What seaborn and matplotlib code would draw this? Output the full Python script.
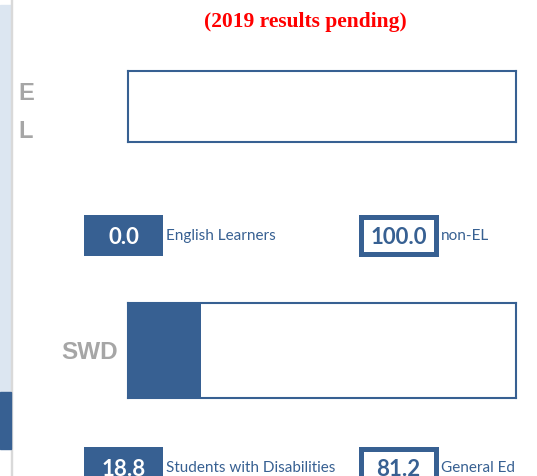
import numpy as np
import matplotlib
matplotlib.use("Agg")
import matplotlib.pyplot as plt
import seaborn as sns
from matplotlib.patches import Rectangle

# subgroup share of students (%)
groups = ["EL", "SWD"]
group_pct = [0.0, 18.8]
complement_pct = [100.0, 81.2]
group_names = ["English Learners", "Students with Disabilities"]
complement_names = ["non-EL", "General Ed"]
subtitle = "(2019 results pending)"

W, H = 537, 477
BLUE = "#376092"
GRAY_TXT = "#a6a6a6"
SANS = ["Lato", "DejaVu Sans"]

sns.set_theme(style="white")
plt.rcParams["font.family"] = SANS

fig = plt.figure(figsize=(W / 100, H / 100), dpi=100)
fig.patch.set_facecolor("white")


def px_axes(x0, y0, x1, y1):
    """axes placed by pixel box (top-left origin)."""
    return fig.add_axes([x0 / W, 1 - y1 / H, (x1 - x0) / W, (y1 - y0) / H])


def fx(x):
    return x / W


def fy(y):
    return 1 - y / H


# left page strip
fig.patches.append(Rectangle((0, fy(393)), fx(10.5), fy(6) - fy(393),
                             transform=fig.transFigure, color="#dce6f1", zorder=0))
fig.patches.append(Rectangle((fx(10.5), 0), fx(1.5), 1,
                             transform=fig.transFigure, color="#d9d9d9", zorder=0))
fig.patches.append(Rectangle((0, fy(450)), fx(11), fy(393) - fy(450),
                             transform=fig.transFigure, color=BLUE, zorder=1))

fig.text(fx(305), fy(22), subtitle, ha="center", va="center", color="red",
         fontsize=15.5, fontweight="bold", family=["Liberation Serif", "DejaVu Serif"])

# bar rows: (bar box, legend row top)
bar_boxes = [(128, 72, 516, 143), (128, 304, 516, 399)]
legend_tops = [216, 448]

for i, g in enumerate(groups):
    x0, y0, x1, y1 = bar_boxes[i]
    ax = px_axes(x0, y0, x1, y1)
    sns.barplot(x=[group_pct[i]], y=[g], orient="h", color=BLUE,
                saturation=1, width=1, ax=ax, linewidth=0)
    ax.set_xlim(0, 100)
    ax.set_ylim(0.5, -0.5)
    ax.set_xticks([])
    ax.set_yticks([])
    ax.set_xlabel("")
    ax.set_ylabel("")
    ax.set_facecolor("white")
    for sp in ax.spines.values():
        sp.set_visible(True)
        sp.set_color(BLUE)
        sp.set_linewidth(1.5)

    # group label on the left
    yc = (y0 + y1) / 2
    if g == "EL":
        fig.text(fx(18), fy(94), "E", ha="left", va="center", color=GRAY_TXT,
                 fontsize=17, fontweight="bold", family=["Liberation Sans", "DejaVu Sans"])
        fig.text(fx(18), fy(132), "L", ha="left", va="center", color=GRAY_TXT,
                 fontsize=17, fontweight="bold", family=["Liberation Sans", "DejaVu Sans"])
    else:
        fig.text(fx(118), fy(yc + 1), g, ha="right", va="center", color=GRAY_TXT,
                 fontsize=17.5, fontweight="bold", family=["Liberation Sans", "DejaVu Sans"])

    # legend boxes
    top = legend_tops[i]
    bx = px_axes(84, top, 163, top + 41)
    bx.set_facecolor(BLUE)
    bx.set_xticks([])
    bx.set_yticks([])
    for sp in bx.spines.values():
        sp.set_visible(False)
    bx.text(0.5, 0.47, f"{group_pct[i]:.1f}", transform=bx.transAxes,
            ha="center", va="center", color="white", fontsize=16, fontweight="bold")
    fig.text(fx(166), fy(top + 20), group_names[i], ha="left", va="center",
             color=BLUE, fontsize=11)

    cx = px_axes(361, top + 2, 436, top + 39)
    cx.set_facecolor("white")
    cx.set_xticks([])
    cx.set_yticks([])
    for sp in cx.spines.values():
        sp.set_visible(True)
        sp.set_color(BLUE)
        sp.set_linewidth(3.6)
    cx.text(0.5, 0.47, f"{complement_pct[i]:.1f}", transform=cx.transAxes,
            ha="center", va="center", color=BLUE, fontsize=16, fontweight="bold")
    fig.text(fx(441), fy(top + 20), complement_names[i], ha="left", va="center",
             color=BLUE, fontsize=11)

fig.savefig("out.png", dpi=100, facecolor="white")
